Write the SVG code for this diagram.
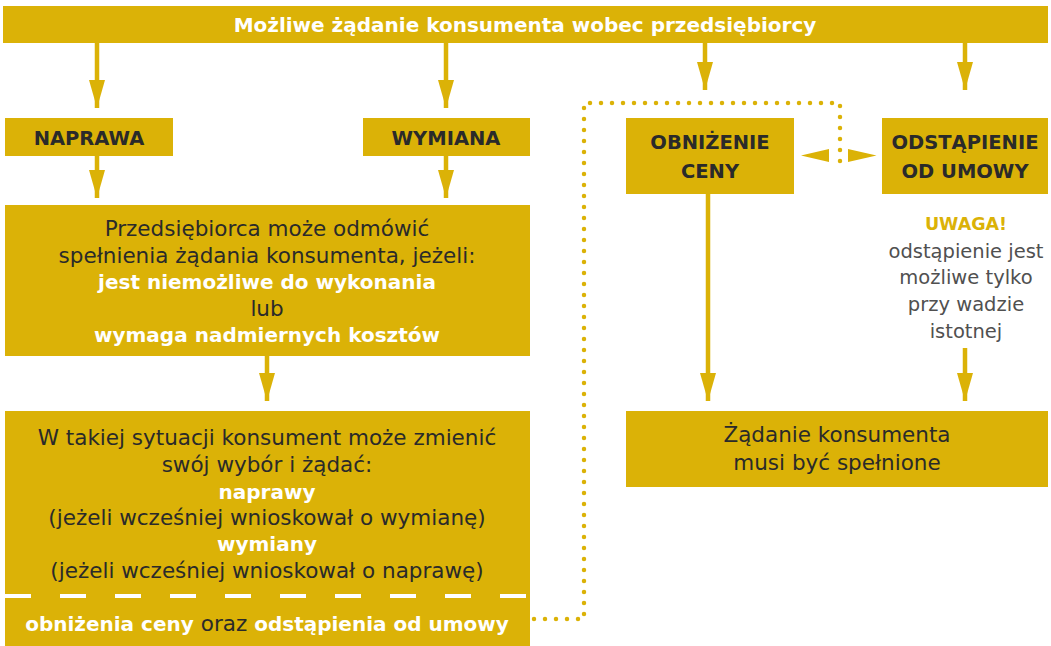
<svg xmlns="http://www.w3.org/2000/svg" width="1051" height="646" viewBox="0 0 1051 646">
<defs>
<style>
.box{fill:#DBB207}
text{font-family:"DejaVu Sans","Liberation Sans",sans-serif;font-size:20px;text-anchor:middle}
.dk{fill:#2A2A2A;font-size:21.5px}
.wb{fill:#FFFFFF;font-weight:bold}
.hd{fill:#2A2A2A;font-weight:bold;font-size:19.5px}
.gr{fill:#505050;font-size:19.5px}
.ua{fill:#DBB207;font-weight:bold;font-size:17.5px}
.arr{stroke:#DBB207;stroke-width:4.5;fill:none;marker-end:url(#ah)}
.dot{stroke:#DBB207;stroke-width:4.5;fill:none;stroke-dasharray:0 11;stroke-linecap:round}
</style>
<marker id="ah" markerUnits="userSpaceOnUse" markerWidth="28" markerHeight="16" viewBox="0 0 28 16" refX="28" refY="8" orient="auto">
<path d="M0,0 L28,8 L0,16 z" fill="#DBB207"/>
</marker>
</defs>

<g id="connectors">
<line class="arr" x1="97" y1="43" x2="97" y2="108"/>
<line class="arr" x1="446" y1="43" x2="446" y2="108"/>
<line class="arr" x1="705" y1="43" x2="705" y2="90"/>
<line class="arr" x1="965" y1="43" x2="965" y2="90"/>
<line class="arr" x1="97" y1="156" x2="97" y2="198"/>
<line class="arr" x1="446" y1="156" x2="446" y2="198"/>
<line class="arr" x1="267" y1="356" x2="267" y2="401"/>
<line class="arr" x1="708" y1="193" x2="708" y2="401"/>
<line class="arr" x1="965" y1="348" x2="965" y2="401"/>
<path class="dot" d="M534,619 H584 V103 H840 V163"/>
<polygon points="829,149 801,155.5 829,162" fill="#DBB207"/>
<polygon points="848,149 876.5,155.5 848,162" fill="#DBB207"/>
</g>

<g id="title">
<rect class="box" x="3" y="6" width="1045" height="37"/>
<text class="wb" x="525" y="32">Możliwe żądanie konsumenta wobec przedsiębiorcy</text>
</g>

<g id="naprawa">
<rect class="box" x="5" y="118" width="168" height="38"/>
<text class="hd" x="89" y="145">NAPRAWA</text>
</g>

<g id="wymiana">
<rect class="box" x="363" y="118" width="167" height="38"/>
<text class="hd" x="446" y="145">WYMIANA</text>
</g>

<g id="obnizenie">
<rect class="box" x="626" y="118" width="168" height="76"/>
<text class="hd" x="710" y="149">OBNIŻENIE</text>
<text class="hd" x="710" y="178">CENY</text>
</g>

<g id="odstapienie">
<rect class="box" x="882" y="118" width="166" height="76"/>
<text class="hd" x="965" y="149">ODSTĄPIENIE</text>
<text class="hd" x="965" y="178">OD UMOWY</text>
</g>

<g id="uwaga">
<text class="ua" x="966" y="230">UWAGA!</text>
<text class="gr" x="966" y="258">odstąpienie jest</text>
<text class="gr" x="966" y="284">możliwe tylko</text>
<text class="gr" x="966" y="311">przy wadzie</text>
<text class="gr" x="966" y="338">istotnej</text>
</g>

<g id="odmowa">
<rect class="box" x="5" y="205" width="525" height="151"/>
<text class="dk" x="267" y="236">Przedsiębiorca może odmówić</text>
<text class="dk" x="267" y="263">spełnienia żądania konsumenta, jeżeli:</text>
<text class="wb" x="267" y="289">jest niemożliwe do wykonania</text>
<text class="dk" x="267" y="316">lub</text>
<text class="wb" x="267" y="342">wymaga nadmiernych kosztów</text>
</g>

<g id="zmiana">
<rect class="box" x="5" y="411" width="525" height="235"/>
<line x1="5" y1="596" x2="530" y2="596" stroke="#FFFFFF" stroke-width="4" stroke-dasharray="26 29"/>
<text class="dk" x="267" y="445">W takiej sytuacji konsument może zmienić</text>
<text class="dk" x="267" y="472">swój wybór i żądać:</text>
<text class="wb" x="267" y="499">naprawy</text>
<text class="dk" x="267" y="525">(jeżeli wcześniej wnioskował o wymianę)</text>
<text class="wb" x="267" y="551">wymiany</text>
<text class="dk" x="267" y="578">(jeżeli wcześniej wnioskował o naprawę)</text>
<text class="wb" x="267" y="631">obniżenia ceny <tspan class="dk" font-weight="normal">oraz</tspan> odstąpienia od umowy</text>
</g>

<g id="spelnione">
<rect class="box" x="626" y="411" width="422" height="76"/>
<text class="dk" x="837" y="442">Żądanie konsumenta</text>
<text class="dk" x="837" y="470">musi być spełnione</text>
</g>
</svg>
